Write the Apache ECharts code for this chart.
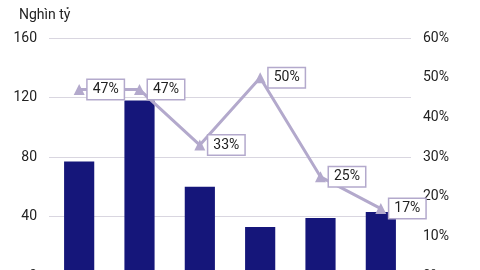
<!DOCTYPE html>
<html><head><meta charset="utf-8">
<script src="https://cdn.jsdelivr.net/npm/echarts@6/dist/echarts.min.js"></script>
<style>html,body{margin:0;padding:0;background:#fff}#c{width:480px;height:270px}</style>
</head><body><div id="c"></div>
<script>
const categories = ['1', '2', '3', '4', '5', '6'];
const barValues = [77, 118, 60, 33, 39, 43];
const lineValues = [47, 47, 33, 50, 25, 17];
const leftTicks = [0, 160, 40];
const rightTicks = [0, 60, 10];

const chart = echarts.init(document.getElementById('c'));
chart.setOption({
  animation: false,
  textStyle: {fontFamily: 'Roboto'},
  title: {text: 'Nghìn tỷ', left: 14, top: 3, textStyle: {fontSize: 14, fontWeight: 'normal', color: '#222', fontFamily: 'Roboto'}},
  grid: {left: 49, width: 362, top: 38, height: 238, outerBoundsMode: 'none', containLabel: false},
  xAxis: {type: 'category', data: categories, axisLine: {show: false}, axisTick: {show: false}, axisLabel: {show: false}},
  yAxis: [
    {type: 'value', min: leftTicks[0], max: leftTicks[1], interval: leftTicks[2],
     axisLabel: {color: '#222', fontSize: 14, margin: 12}, splitLine: {lineStyle: {color: '#d9d6e0', width: 1}},
     axisLine: {show: false}, axisTick: {show: false}},
    {type: 'value', min: rightTicks[0], max: rightTicks[1], interval: rightTicks[2],
     axisLabel: {color: '#222', fontSize: 14, formatter: '{value}%', margin: 12}, splitLine: {show: false},
     axisLine: {show: false}, axisTick: {show: false}}
  ],
  series: [
    {type: 'bar', data: barValues, barWidth: '50%', itemStyle: {color: '#15167a'}},
    {type: 'line', yAxisIndex: 1, data: lineValues, symbol: 'triangle', symbolSize: 11,
     lineStyle: {color: '#b3a9cc', width: 3}, itemStyle: {color: '#b3a9cc'},
     label: {show: true, position: 'right', distance: 3, formatter: '{c}%', color: '#222', fontSize: 14,
       backgroundColor: '#fff', borderColor: '#b3a9cc', borderWidth: 1.5, padding: [3, 5, 2, 5]}}
  ]
});
</script></body></html>
